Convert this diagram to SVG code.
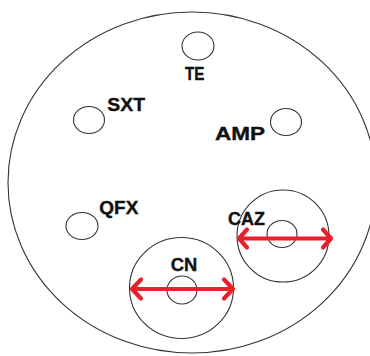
<svg xmlns="http://www.w3.org/2000/svg" width="370" height="356" viewBox="0 0 370 356">
<defs>
<style>
.ring{fill:none;stroke:#333;stroke-width:1.1}
.hole{fill:none;stroke:#333;stroke-width:1.1}
.lbl{font-family:"Liberation Sans",Arial,sans-serif;font-weight:bold;font-size:17.5px;fill:#111;stroke:#111;stroke-width:0.35}
.arr{fill:none;stroke:#e8202a;stroke-width:4.2;stroke-linecap:round;stroke-linejoin:round}
</style>
</defs>
<rect width="370" height="356" fill="#fff"/>
<g id="plate"><ellipse class="ring" cx="192" cy="182.5" rx="184" ry="170.5"/></g>
<g id="TE"><ellipse class="hole" cx="198" cy="46" rx="16" ry="14"/><text class="lbl" x="185" y="80" textLength="19.5" lengthAdjust="spacingAndGlyphs">TE</text></g>
<g id="SXT"><ellipse class="hole" cx="89" cy="120" rx="15.5" ry="13.5"/><text class="lbl" x="107.3" y="111" textLength="37.7" lengthAdjust="spacingAndGlyphs">SXT</text></g>
<g id="AMP"><ellipse class="hole" cx="286" cy="122" rx="15.5" ry="13.5"/><text class="lbl" x="215" y="140" textLength="50" lengthAdjust="spacingAndGlyphs">AMP</text></g>
<g id="QFX"><ellipse class="hole" cx="82" cy="226" rx="16" ry="13.5"/><text class="lbl" x="99.3" y="213.5" textLength="39" lengthAdjust="spacingAndGlyphs">QFX</text></g>
<g id="CAZ"><circle class="ring" cx="283" cy="236" r="46"/><ellipse class="hole" cx="282" cy="234" rx="15" ry="13.5"/><text class="lbl" x="228" y="225" textLength="37" lengthAdjust="spacingAndGlyphs">CAZ</text></g>
<g id="CN"><ellipse class="ring" cx="181.5" cy="288" rx="52" ry="50.5"/><ellipse class="hole" cx="182" cy="290" rx="15" ry="14"/><text class="lbl" x="170.7" y="271" textLength="26.6" lengthAdjust="spacingAndGlyphs">CN</text></g>
<g id="connectors">
<path class="arr" d="M239,238.5 H331 M247,229.5 L239,238.5 L247,247.5 M323,229.5 L331,238.5 L323,247.5"/>
<path class="arr" d="M132,289 H233 M141,279.5 L132,289 L141,298.5 M224,279.5 L233,289 L224,298.5"/>
</g>
</svg>
